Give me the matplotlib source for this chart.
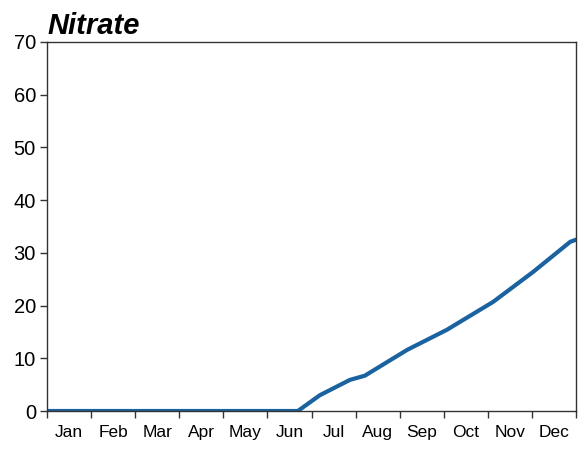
import numpy as np
import matplotlib
matplotlib.use('Agg')
import matplotlib.pyplot as plt

months = ['Jan', 'Feb', 'Mar', 'Apr', 'May', 'Jun', 'Jul', 'Aug', 'Sep', 'Oct', 'Nov', 'Dec']
# position along the year in months (0 = 1 Jan, 12 = 31 Dec)
t = [0.0, 1.0, 2.0, 3.0, 4.0, 5.0, 5.69, 6.19, 6.87, 7.21, 8.17, 9.07, 10.12, 11.03, 11.87, 12.0]
nitrate = [0, 0, 0, 0, 0, 0, 0, 3.0, 5.9, 6.7, 11.6, 15.4, 20.7, 26.4, 32.1, 32.5]

plt.rcParams['font.family'] = ['Liberation Sans', 'DejaVu Sans']

fig = plt.figure(figsize=(5.79, 4.49), dpi=100)
ax = fig.add_axes([0.0812, 0.0846, 0.9136, 0.8219])

ax.plot(t, nitrate, color='#1a62a0', linewidth=3.0, solid_capstyle='round')

ax.set_xlim(0, 12)
ax.set_ylim(0, 70)
ax.set_yticks(np.arange(0, 71, 10))
ax.set_xticks(np.arange(0, 13))
ax.set_xticklabels([])
ax.set_xticks(np.arange(12) + 0.5, minor=True)
ax.set_xticklabels(months, minor=True)
ax.tick_params(axis='x', which='minor', length=0, labelsize=12.5, pad=10)
ax.tick_params(axis='x', which='major', length=5, width=1, color='#333333')
ax.tick_params(axis='y', length=5, width=1, labelsize=14.5, color='#333333', pad=3)

for s in ax.spines.values():
    s.set_color('#333333')
    s.set_linewidth(1)

ax.set_title('Nitrate', loc='left', fontsize=21, fontweight='bold', fontstyle='italic', pad=6)

plt.savefig('out.png', dpi=100)
